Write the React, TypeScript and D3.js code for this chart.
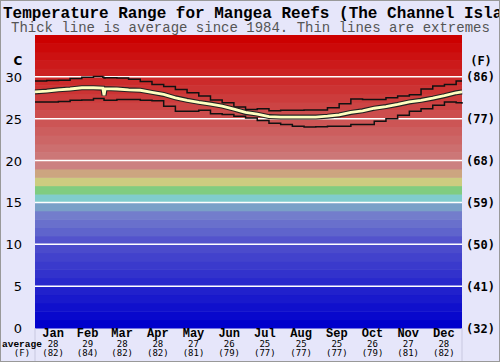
import React from 'react';
import * as d3 from 'd3';

// chart values
const months = ['Jan', 'Feb', 'Mar', 'Apr', 'May', 'Jun', 'Jul', 'Aug', 'Sep', 'Oct', 'Nov', 'Dec'];
const monthDays = [31, 28, 31, 30, 31, 30, 31, 31, 30, 31, 30, 31];
const monthAvgC = [28, 29, 28, 28, 27, 26, 25, 25, 25, 26, 27, 28];
const monthAvgF = [82, 84, 82, 82, 81, 79, 77, 77, 77, 79, 81, 82];

const yTicksC = [0, 5, 10, 15, 20, 25, 30];
const yTicksF = [32, 41, 50, 59, 68, 77, 86];

const days = [0, 10, 20, 30, 40, 50, 58, 59, 60, 70, 80, 90, 100, 110, 120, 130, 140, 150, 160, 170, 180,
  190, 200, 210, 220, 230, 240, 250, 260, 270, 280, 290, 300, 310, 320, 330, 340, 350, 360, 365];
const maxTemp = [29.5, 29.55, 29.6, 29.8, 29.95, 30.05, 29.95, 29.85, 29.9, 29.85, 29.7, 29.45, 29.1, 28.85, 28.5, 28.1,
  27.7, 27.25, 26.9, 26.4, 26.1, 26.2, 25.95, 26.0, 26.0, 26.05, 26.05, 26.3, 26.8, 27.35, 27.3, 27.3, 27.5, 27.7,
  27.85, 28.55, 28.9, 29.1, 29.5, 29.5];
const avgTemp = [28.2, 28.3, 28.45, 28.55, 28.7, 28.7, 28.65, 27.8, 28.6, 28.55, 28.45, 28.4, 28.15, 27.9, 27.5, 27.2,
  26.95, 26.75, 26.5, 26.15, 25.75, 25.55, 25.25, 25.2, 25.2, 25.2, 25.2, 25.3, 25.45, 25.75, 25.95, 26.25, 26.45,
  26.7, 27.0, 27.2, 27.45, 27.75, 28.1, 28.2];
const minTemp = [27.0, 27.0, 27.05, 27.2, 27.25, 27.4, 27.4, 27.2, 27.2, 27.3, 27.3, 27.2, 27.15, 26.5, 25.9, 25.9,
  26.0, 25.6, 25.5, 25.3, 25.1, 24.8, 24.45, 24.3, 24.1, 24.0, 24.05, 24.1, 24.1, 24.3, 24.3, 24.7, 25.0, 25.4,
  25.9, 26.2, 26.6, 27.0, 26.9, 26.8];

// one colour per 1°C band, 0..34
const bandColors = [
  'rgb(0,0,204)', 'rgb(8,8,204)', 'rgb(16,16,204)', 'rgb(25,25,204)', 'rgb(33,33,204)', 'rgb(41,41,204)',
  'rgb(50,50,204)', 'rgb(58,58,204)', 'rgb(66,66,204)', 'rgb(75,75,204)', 'rgb(83,83,204)', 'rgb(95,100,204)',
  'rgb(105,112,204)', 'rgb(115,125,204)', 'rgb(122,160,200)', 'rgb(128,204,204)', 'rgb(128,204,128)',
  'rgb(204,204,128)', 'rgb(204,165,128)', 'rgb(204,128,128)', 'rgb(204,119,119)', 'rgb(204,111,111)',
  'rgb(204,102,102)', 'rgb(204,94,94)', 'rgb(204,85,85)', 'rgb(204,77,77)', 'rgb(204,68,68)', 'rgb(204,60,60)',
  'rgb(204,51,51)', 'rgb(204,43,43)', 'rgb(204,34,34)', 'rgb(204,26,26)', 'rgb(204,17,17)', 'rgb(204,9,9)',
  'rgb(204,0,0)'];

const W = 500, H = 362;
const left = 35, right = 462, top = 35, bottom = 328;

export default function App() {
  const x = d3.scaleLinear().domain([0, 365]).range([left, right]);
  const y = d3.scaleLinear().domain([0, 35]).range([bottom, top]);

  const monthStarts = d3.cumsum([0, ...monthDays]);

  const stepLine = d3.line<number>()
    .x((_, i) => x(days[i]))
    .y((d) => y(d))
    .curve(d3.curveStepAfter);
  const avgLine = d3.line<number>()
    .x((_, i) => x(days[i]))
    .y((d) => y(d));

  const mono = '"DejaVu Sans Mono", "Liberation Mono", monospace';
  const courier = '"Liberation Mono", "Courier New", monospace';

  return (
    <svg width={W} height={H} style={{ position: 'absolute', left: 0, top: 0 }}>
      <rect x={0} y={0} width={W} height={H} fill="#e6e6fa" />

      {/* colour bands */}
      {bandColors.map((c, i) => (
        <rect key={i} x={left} y={y(i + 1)} width={right - left} height={y(i) - y(i + 1) + 0.5} fill={c} />
      ))}

      {/* month dividers */}
      {monthStarts.slice(1, 12).map((d, i) => (
        <line key={i} x1={x(d)} x2={x(d)} y1={top} y2={bottom} stroke="#666" strokeWidth={1} />
      ))}

      {/* horizontal grid */}
      {yTicksC.filter((t) => t > 0).map((t) => (
        <line key={t} x1={left} x2={right} y1={y(t)} y2={y(t)} stroke="#fff" strokeWidth={1.5} />
      ))}

      {/* extremes and average */}
      <path d={stepLine(maxTemp) || ''} fill="none" stroke="#111" strokeWidth={1.5} />
      <path d={stepLine(minTemp) || ''} fill="none" stroke="#111" strokeWidth={1.5} />
      <path d={avgLine(avgTemp) || ''} fill="none" stroke="#222" strokeWidth={5} />
      <path d={avgLine(avgTemp) || ''} fill="none" stroke="#ffffc0" strokeWidth={2.8} />

      {/* separators in label area */}
      <line x1={left} x2={left} y1={bottom} y2={H} stroke="#c8c8e0" />
      <line x1={right} x2={right} y1={bottom} y2={H} stroke="#c8c8e0" />

      {/* title */}
      <text x={3} y={17.5} fontFamily={courier} fontWeight="bold" fontSize={16} fill="#000">
        Temperature Range for Mangea Reefs (The Channel Islands)
      </text>
      <text x={11} y={31.5} fontFamily={courier} fontSize={14} fill="#555">
        Thick line is average since 1984. Thin lines are extremes
      </text>

      {/* left axis */}
      <text x={18} y={y(32) + 5} textAnchor="middle" fontFamily='"DejaVu Sans", sans-serif' fontWeight="bold" fontSize={12} fill="#000">C</text>
      {yTicksC.map((t) => (
        <text key={t} x={22} y={y(t) + 5} textAnchor="end" fontFamily='"DejaVu Sans", sans-serif' fontSize={13} fill="#000">{t}</text>
      ))}

      {/* right axis */}
      <text x={481} y={y(32) + 5} textAnchor="middle" fontFamily={mono} fontWeight="bold" fontSize={12} fill="#000">(F)</text>
      {yTicksF.map((f, i) => (
        <text key={f} x={466} y={y(yTicksC[i]) + 4.5} fontFamily={mono} fontWeight="bold" fontSize={12} fill="#000">({f})</text>
      ))}

      {/* month labels */}
      {months.map((m, i) => {
        const cx = x((monthStarts[i] + monthStarts[i + 1]) / 2);
        return (
          <g key={m}>
            <text x={cx} y={337} textAnchor="middle" fontFamily={courier} fontWeight="bold" fontSize={12} fill="#000">{m}</text>
            <text x={cx} y={346.5} textAnchor="middle" fontFamily={mono} fontSize={9} fill="#000">{monthAvgC[i]}</text>
            <text x={cx} y={355.5} textAnchor="middle" fontFamily={mono} fontSize={9} fill="#000">({monthAvgF[i]})</text>
          </g>
        );
      })}
      <text x={2} y={346.5} fontFamily={courier} fontWeight="bold" fontSize={9.5} fill="#000">average</text>
      <text x={22} y={355.5} textAnchor="middle" fontFamily={mono} fontSize={9} fill="#000">(F)</text>

      <rect x={0.5} y={0.5} width={W - 1} height={H - 1} fill="none" stroke="#999" />
    </svg>
  );
}
